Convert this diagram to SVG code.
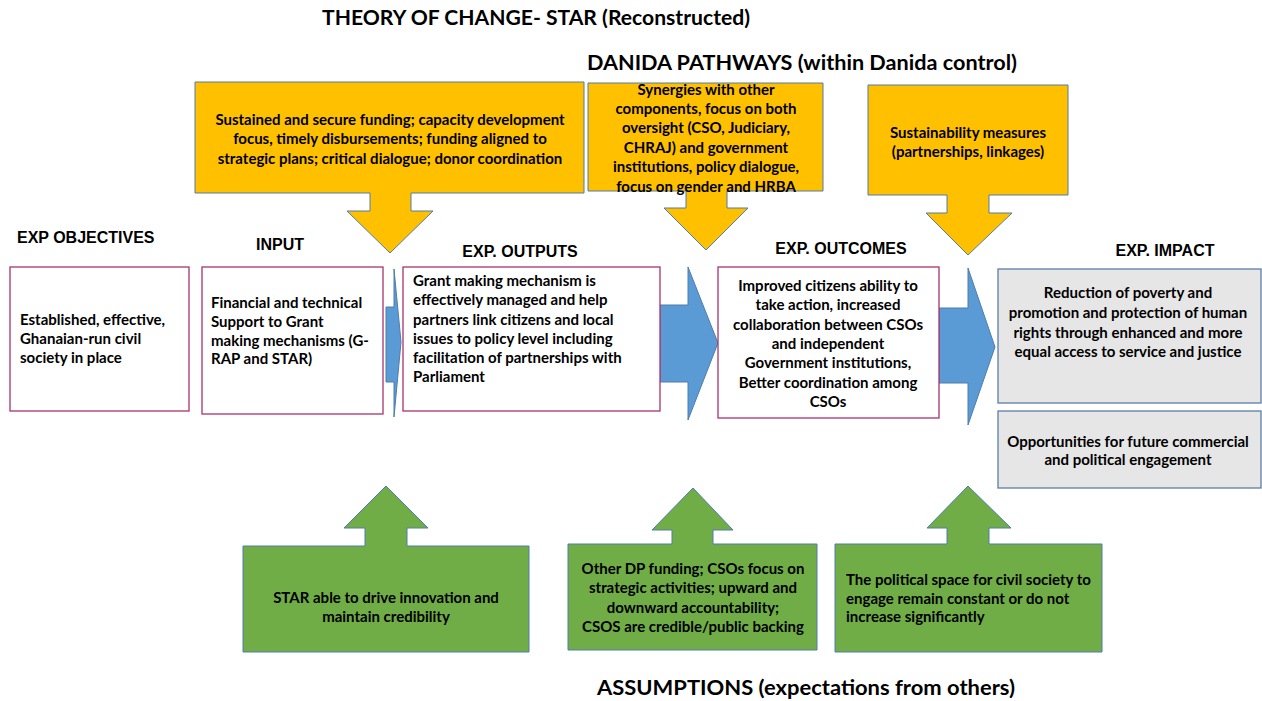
<svg xmlns="http://www.w3.org/2000/svg" width="1262" height="701" viewBox="0 0 1262 701">
  <style>
    .title { font-family: Lato, "Liberation Sans", sans-serif; font-weight: bold; font-size: 21.5px; fill: #000; }
    .head { font-family: "Liberation Sans", Arial, sans-serif; font-weight: bold; font-size: 16px; fill: #000; }
    .t { font-family: Lato, "Liberation Sans", sans-serif; font-weight: bold; font-size: 15px; fill: #000; }
    .c { text-anchor: middle; }
    .box { fill: #fff; stroke: #A9346E; stroke-width: 1.3; }
    .impact { fill: #E7E6E6; stroke: #5B7FA6; stroke-width: 1.3; }
    .orange { fill: #FFC000; stroke: #4F7DAA; stroke-width: 1; }
    .green { fill: #70AD47; stroke: #4F7DAA; stroke-width: 1; }
    .flow { fill: #5B9BD5; stroke: #4F7DAA; stroke-width: 1; }
  </style>

  <!-- Titles -->
  <text class="title" x="322" y="25" textLength="428" lengthAdjust="spacingAndGlyphs">THEORY OF CHANGE- STAR (Reconstructed)</text>
  <text class="title" x="587" y="70" textLength="430" lengthAdjust="spacingAndGlyphs">DANIDA PATHWAYS (within Danida control)</text>
  <text class="title" x="597" y="695" textLength="418" lengthAdjust="spacingAndGlyphs">ASSUMPTIONS (expectations from others)</text>

  <!-- Column headings -->
  <text class="head" x="17" y="243">EXP OBJECTIVES</text>
  <text class="head" x="280" y="250" text-anchor="middle">INPUT</text>
  <text class="head" x="520" y="257" text-anchor="middle">EXP. OUTPUTS</text>
  <text class="head" x="841" y="254" text-anchor="middle">EXP. OUTCOMES</text>
  <text class="head" x="1165" y="256" text-anchor="middle">EXP. IMPACT</text>

  <!-- Flow arrows between the chain boxes -->
  <g id="connectors">
    <polygon class="flow" points="386,307 394,307 394,269 401,342 394,417 394,382 386,382"/>
    <polygon class="flow" points="660,305 688,305 688,267 718,343 688,420 688,382 660,382"/>
    <polygon class="flow" points="939,308 968,308 968,268 995,347 968,425 968,383 939,383"/>
  </g>

  <!-- Danida pathway callouts -->
  <g id="pathway-funding">
    <polygon class="orange" points="195,82 584,82 584,193 411,193 411,211 433,211 390,253 347,211 370,211 370,193 195,193"/>
    <text class="t c" x="390" y="125">Sustained and secure funding; capacity development</text>
    <text class="t c" x="390" y="144">focus, timely disbursements; funding aligned to</text>
    <text class="t c" x="390" y="164">strategic plans; critical dialogue; donor coordination</text>
  </g>
  <g id="pathway-synergies">
    <polygon class="orange" points="588,83 823,83 823,191 727,191 727,208 748,208 706,250 664,208 686,208 686,191 588,191"/>
    <text class="t c" x="706" y="95">Synergies with other</text>
    <text class="t c" x="706" y="114">components, focus on both</text>
    <text class="t c" x="706" y="133">oversight (CSO, Judiciary,</text>
    <text class="t c" x="706" y="153">CHRAJ) and government</text>
    <text class="t c" x="706" y="172">institutions, policy dialogue,</text>
    <text class="t c" x="706" y="192">focus on gender and HRBA</text>
  </g>
  <g id="pathway-sustainability">
    <polygon class="orange" points="868,85 1068,85 1068,195 989,195 989,213 1012,213 968,255 926,213 947,213 947,195 868,195"/>
    <text class="t c" x="968" y="138">Sustainability measures</text>
    <text class="t c" x="968" y="157">(partnerships, linkages)</text>
  </g>

  <!-- Results chain -->
  <g id="objectives">
    <rect class="box" x="10" y="267" width="179" height="144"/>
    <text class="t" x="20" y="325">Established, effective,</text>
    <text class="t" x="20" y="344">Ghanaian-run civil</text>
    <text class="t" x="20" y="363">society in place</text>
  </g>
  <g id="input">
    <rect class="box" x="202" y="267" width="181" height="147"/>
    <text class="t" x="211" y="308">Financial and technical</text>
    <text class="t" x="211" y="327">Support to Grant</text>
    <text class="t" x="211" y="346">making mechanisms (G-</text>
    <text class="t" x="211" y="364">RAP and STAR)</text>
  </g>
  <g id="outputs">
    <rect class="box" x="403" y="267" width="257" height="144"/>
    <text class="t" x="413" y="286">Grant making mechanism is</text>
    <text class="t" x="413" y="305">effectively managed and help</text>
    <text class="t" x="413" y="325">partners link citizens and local</text>
    <text class="t" x="413" y="344">issues to policy level including</text>
    <text class="t" x="413" y="363">facilitation of partnerships with</text>
    <text class="t" x="413" y="382">Parliament</text>
  </g>
  <g id="outcomes">
    <rect class="box" x="718" y="267" width="221" height="151"/>
    <text class="t c" x="828" y="291">Improved citizens ability to</text>
    <text class="t c" x="828" y="310">take action, increased</text>
    <text class="t c" x="828" y="330">collaboration between CSOs</text>
    <text class="t c" x="828" y="349">and independent</text>
    <text class="t c" x="828" y="368">Government institutions,</text>
    <text class="t c" x="828" y="388">Better coordination among</text>
    <text class="t c" x="828" y="407">CSOs</text>
  </g>
  <g id="impact">
    <rect class="impact" x="998" y="269" width="263" height="134"/>
    <text class="t c" x="1128" y="298">Reduction of poverty and</text>
    <text class="t c" x="1128" y="318">promotion and protection of human</text>
    <text class="t c" x="1128" y="338">rights through enhanced and more</text>
    <text class="t c" x="1128" y="357">equal access to service and justice</text>
  </g>
  <g id="opportunities">
    <rect class="impact" x="998" y="411" width="263" height="77"/>
    <text class="t c" x="1128" y="447">Opportunities for future commercial</text>
    <text class="t c" x="1128" y="465">and political engagement</text>
  </g>

  <!-- Assumption callouts -->
  <g id="assumption-star">
    <polygon class="green" points="243,546 365,546 365,528 344,528 386,486 428,528 407,528 407,546 529,546 529,652 243,652"/>
    <text class="t c" x="386" y="603">STAR able to drive innovation and</text>
    <text class="t c" x="386" y="622">maintain credibility</text>
  </g>
  <g id="assumption-funding">
    <polygon class="green" points="568,544 672,544 672,530 652,530 693,488 733,530 713,530 713,544 817,544 817,650 568,650"/>
    <text class="t c" x="693" y="574">Other DP funding; CSOs focus on</text>
    <text class="t c" x="693" y="593">strategic activities; upward and</text>
    <text class="t c" x="693" y="613">downward accountability;</text>
    <text class="t c" x="693" y="632">CSOS are credible/public backing</text>
  </g>
  <g id="assumption-space">
    <polygon class="green" points="835,544 947,544 947,528 927,528 968,486 1011,528 989,528 989,544 1102,544 1102,652 835,652"/>
    <text class="t" x="846" y="585">The political space for civil society to</text>
    <text class="t" x="846" y="604">engage remain constant or do not</text>
    <text class="t" x="846" y="622">increase significantly</text>
  </g>
</svg>
